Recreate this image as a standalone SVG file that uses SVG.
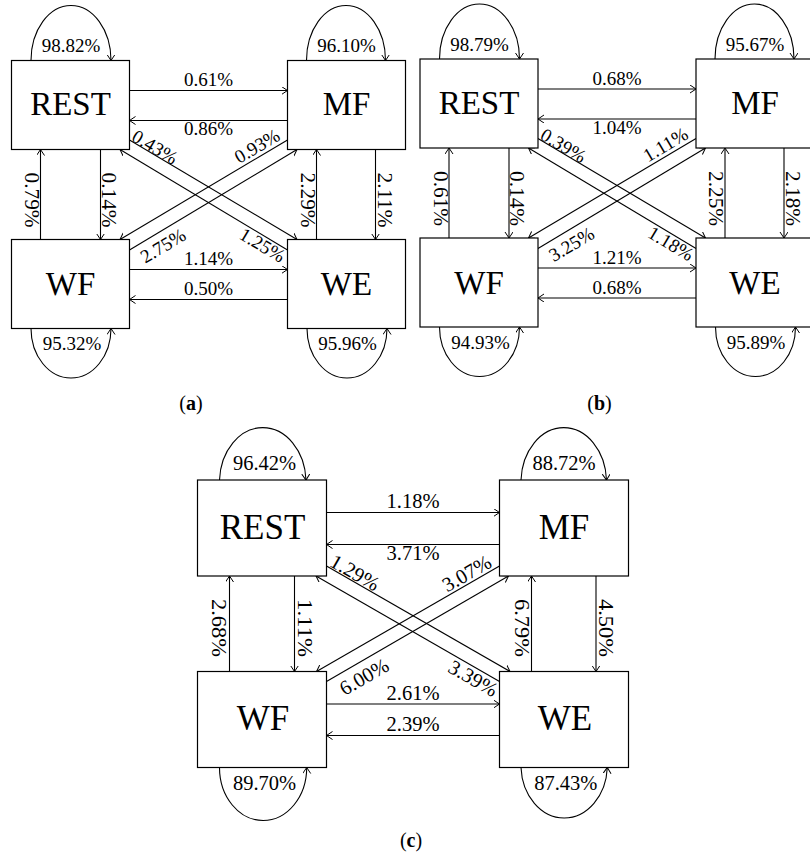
<svg xmlns="http://www.w3.org/2000/svg" width="810" height="862" viewBox="0 0 810 862">
<style>
  .node rect { fill: #fff; stroke: #000; stroke-width: 1.2; }
  .nt { font-family: "Liberation Serif", "Times New Roman", serif; font-size: 33px; text-anchor: middle; fill: #000; }
  .ntc { font-family: "Liberation Serif", "Times New Roman", serif; font-size: 35px; text-anchor: middle; fill: #000; }
  .conn line, .conn path { fill: none; stroke: #000; stroke-width: 1.1; marker-end: url(#ah); }
  .lb { font-family: "Liberation Serif", "Times New Roman", serif; font-size: 19px; text-anchor: middle; fill: #000; }
  .lbc { font-family: "Liberation Serif", "Times New Roman", serif; font-size: 20.5px; text-anchor: middle; fill: #000; }
  .vl { font-family: "Liberation Serif", "Times New Roman", serif; font-size: 20px; text-anchor: middle; fill: #000; }
  .vlc { font-family: "Liberation Serif", "Times New Roman", serif; font-size: 21px; text-anchor: middle; fill: #000; }
  .cap { font-family: "Liberation Serif", "Times New Roman", serif; font-size: 20px; text-anchor: middle; fill: #000; }
</style>
<defs>
  <marker id="ah" markerWidth="9" markerHeight="9" refX="6" refY="4" orient="auto" markerUnits="userSpaceOnUse">
    <path d="M0,0 L6,4 L0,8" fill="none" stroke="#000" stroke-width="1"/>
  </marker>
</defs>
<rect width="810" height="862" fill="#fff"/>

<!-- Panel (a) -->
<g id="panel-a">
  <g id="a-connectors" class="conn">
    <line x1="129.5" y1="90.5" x2="287.5" y2="90.5"/>
    <line x1="287.5" y1="120.5" x2="129.5" y2="120.5"/>
    <line x1="129.5" y1="269.5" x2="287.5" y2="269.5"/>
    <line x1="287.5" y1="299.5" x2="129.5" y2="299.5"/>
    <line x1="40.5" y1="239.5" x2="40.5" y2="149.5"/>
    <line x1="100.5" y1="149.5" x2="100.5" y2="239.5"/>
    <line x1="316.5" y1="239.5" x2="316.5" y2="149.5"/>
    <line x1="375.5" y1="149.5" x2="375.5" y2="239.5"/>
    <line x1="129.5" y1="140" x2="297" y2="239.5"/>
    <line x1="287.5" y1="250" x2="120" y2="149.5"/>
    <line x1="287.5" y1="140" x2="120" y2="239.5"/>
    <line x1="129.5" y1="250" x2="297" y2="149.5"/>
    <path d="M31,60.5 A40,55 0 0 1 111,60.5"/>
    <path d="M306.5,60.5 A39.5,55 0 0 1 385.5,60.5"/>
    <path d="M31,328.5 A40,49.5 0 0 0 111,328.5"/>
    <path d="M307,328.5 A40,49.5 0 0 0 387,328.5"/>
    <text class="lb" x="208.5" y="86">0.61%</text>
    <text class="lb" x="208.5" y="135">0.86%</text>
    <text class="lb" x="208.5" y="265">1.14%</text>
    <text class="lb" x="208.5" y="295">0.50%</text>
    <text class="vl" transform="translate(25,200) rotate(90)" textLength="55" lengthAdjust="spacingAndGlyphs">0.79%</text>
    <text class="vl" transform="translate(101.5,200) rotate(90)" textLength="55" lengthAdjust="spacingAndGlyphs">0.14%</text>
    <text class="vl" transform="translate(300.5,200) rotate(90)" textLength="55" lengthAdjust="spacingAndGlyphs">2.29%</text>
    <text class="vl" transform="translate(377.5,200) rotate(90)" textLength="55" lengthAdjust="spacingAndGlyphs">2.11%</text>
    <text class="lb" transform="translate(151.7,152.6) rotate(30.7)">0.43%</text>
    <text class="lb" transform="translate(260.3,151.6) rotate(-30.7)">0.93%</text>
    <text class="lb" transform="translate(166.3,251.3) rotate(-30.7)">2.75%</text>
    <text class="lb" transform="translate(259.2,250.6) rotate(30.7)">1.25%</text>
    <text class="lb" x="71" y="52">98.82%</text>
    <text class="lb" x="346.5" y="52">96.10%</text>
    <text class="lb" x="72" y="350">95.32%</text>
    <text class="lb" x="347.5" y="350">95.96%</text>
  </g>
  <g id="a-rest" class="node"><rect x="11.5" y="60.5" width="118" height="89"/><text class="nt" x="70.5" y="115">REST</text></g>
  <g id="a-mf" class="node"><rect x="287.5" y="60.5" width="118" height="89"/><text class="nt" x="346.5" y="115">MF</text></g>
  <g id="a-wf" class="node"><rect x="11.5" y="239.5" width="118" height="89"/><text class="nt" x="70.5" y="295">WF</text></g>
  <g id="a-we" class="node"><rect x="287.5" y="239.5" width="118" height="89"/><text class="nt" x="346.5" y="295">WE</text></g>
  <text class="cap" x="191" y="410">(<tspan font-weight="bold">a</tspan>)</text>
</g>

<!-- Panel (b) -->
<g id="panel-b" transform="translate(408.5,-1.5)">
  <g id="b-connectors" class="conn">
    <line x1="129.5" y1="90.5" x2="287.5" y2="90.5"/>
    <line x1="287.5" y1="120.5" x2="129.5" y2="120.5"/>
    <line x1="129.5" y1="269.5" x2="287.5" y2="269.5"/>
    <line x1="287.5" y1="299.5" x2="129.5" y2="299.5"/>
    <line x1="40.5" y1="239.5" x2="40.5" y2="149.5"/>
    <line x1="100.5" y1="149.5" x2="100.5" y2="239.5"/>
    <line x1="316.5" y1="239.5" x2="316.5" y2="149.5"/>
    <line x1="375.5" y1="149.5" x2="375.5" y2="239.5"/>
    <line x1="129.5" y1="140" x2="297" y2="239.5"/>
    <line x1="287.5" y1="250" x2="120" y2="149.5"/>
    <line x1="287.5" y1="140" x2="120" y2="239.5"/>
    <line x1="129.5" y1="250" x2="297" y2="149.5"/>
    <path d="M31,60.5 A40,55 0 0 1 111,60.5"/>
    <path d="M306.5,60.5 A39.5,55 0 0 1 385.5,60.5"/>
    <path d="M31,328.5 A40,49.5 0 0 0 111,328.5"/>
    <path d="M307,328.5 A40,49.5 0 0 0 387,328.5"/>
    <text class="lb" x="208.5" y="86">0.68%</text>
    <text class="lb" x="208.5" y="135">1.04%</text>
    <text class="lb" x="208.5" y="265">1.21%</text>
    <text class="lb" x="208.5" y="295">0.68%</text>
    <text class="vl" transform="translate(25,200) rotate(90)" textLength="55" lengthAdjust="spacingAndGlyphs">0.61%</text>
    <text class="vl" transform="translate(101.5,200) rotate(90)" textLength="55" lengthAdjust="spacingAndGlyphs">0.14%</text>
    <text class="vl" transform="translate(300.5,200) rotate(90)" textLength="55" lengthAdjust="spacingAndGlyphs">2.25%</text>
    <text class="vl" transform="translate(377.5,200) rotate(90)" textLength="55" lengthAdjust="spacingAndGlyphs">2.18%</text>
    <text class="lb" transform="translate(151.7,152.6) rotate(30.7)">0.39%</text>
    <text class="lb" transform="translate(260.3,151.6) rotate(-30.7)">1.11%</text>
    <text class="lb" transform="translate(166.3,251.3) rotate(-30.7)">3.25%</text>
    <text class="lb" transform="translate(259.2,250.6) rotate(30.7)">1.18%</text>
    <text class="lb" x="71" y="52">98.79%</text>
    <text class="lb" x="346.5" y="52">95.67%</text>
    <text class="lb" x="72" y="350">94.93%</text>
    <text class="lb" x="347.5" y="350">95.89%</text>
  </g>
  <g id="b-rest" class="node"><rect x="11.5" y="60.5" width="118" height="89"/><text class="nt" x="70.5" y="115">REST</text></g>
  <g id="b-mf" class="node"><rect x="287.5" y="60.5" width="118" height="89"/><text class="nt" x="346.5" y="115">MF</text></g>
  <g id="b-wf" class="node"><rect x="11.5" y="239.5" width="118" height="89"/><text class="nt" x="70.5" y="295">WF</text></g>
  <g id="b-we" class="node"><rect x="287.5" y="239.5" width="118" height="89"/><text class="nt" x="346.5" y="295">WE</text></g>
  <text class="cap" x="191" y="411.5">(<tspan font-weight="bold">b</tspan>)</text>
</g>

<!-- Panel (c) -->
<g id="panel-c">
  <g id="c-connectors" class="conn">
    <line x1="326.5" y1="512.5" x2="499.5" y2="512.5"/>
    <line x1="499.5" y1="544.5" x2="326.5" y2="544.5"/>
    <line x1="326.5" y1="704" x2="499.5" y2="704"/>
    <line x1="499.5" y1="735.5" x2="326.5" y2="735.5"/>
    <line x1="229.5" y1="671.5" x2="229.5" y2="576"/>
    <line x1="294.5" y1="576" x2="294.5" y2="671.5"/>
    <line x1="531.5" y1="671.5" x2="531.5" y2="576"/>
    <line x1="596" y1="576" x2="596" y2="671.5"/>
    <line x1="326.5" y1="566" x2="510" y2="671.5"/>
    <line x1="499.5" y1="681.5" x2="316" y2="576"/>
    <line x1="499.5" y1="566" x2="316.5" y2="671.5"/>
    <line x1="326.5" y1="681.5" x2="508.5" y2="576"/>
    <path d="M219.5,480 A43.3,55 0 0 1 306,480"/>
    <path d="M521,480 A42.8,55 0 0 1 606.5,480"/>
    <path d="M219.5,767.5 A43.6,53 0 0 0 306.7,767.5"/>
    <path d="M521,767.5 A43.2,53 0 0 0 607.3,767.5"/>
    <text class="lbc" x="413" y="507.5">1.18%</text>
    <text class="lbc" x="413" y="560">3.71%</text>
    <text class="lbc" x="413" y="699.5">2.61%</text>
    <text class="lbc" x="413" y="730.5">2.39%</text>
    <text class="vlc" transform="translate(212,628) rotate(90)" textLength="58" lengthAdjust="spacingAndGlyphs">2.68%</text>
    <text class="vlc" transform="translate(297.5,628) rotate(90)" textLength="58" lengthAdjust="spacingAndGlyphs">1.11%</text>
    <text class="vlc" transform="translate(515,628) rotate(90)" textLength="58" lengthAdjust="spacingAndGlyphs">6.79%</text>
    <text class="vlc" transform="translate(598.5,628) rotate(90)" textLength="58" lengthAdjust="spacingAndGlyphs">4.50%</text>
    <text class="lbc" transform="translate(351.5,578.6) rotate(29.9)">1.29%</text>
    <text class="lbc" transform="translate(470.2,579.4) rotate(-29.9)">3.07%</text>
    <text class="lbc" transform="translate(367.5,682.8) rotate(-29.9)">6.00%</text>
    <text class="lbc" transform="translate(469.8,684.4) rotate(29.9)">3.39%</text>
    <text class="lbc" x="264.5" y="470">96.42%</text>
    <text class="lbc" x="564" y="470">88.72%</text>
    <text class="lbc" x="264.5" y="790">89.70%</text>
    <text class="lbc" x="565.8" y="790">87.43%</text>
  </g>
  <g id="c-rest" class="node"><rect x="197.5" y="480" width="129" height="96"/><text class="ntc" x="262.5" y="538.5">REST</text></g>
  <g id="c-mf" class="node"><rect x="499.5" y="480" width="129" height="96"/><text class="ntc" x="564" y="538.5">MF</text></g>
  <g id="c-wf" class="node"><rect x="197.5" y="671.5" width="129" height="96"/><text class="ntc" x="263" y="730">WF</text></g>
  <g id="c-we" class="node"><rect x="499.5" y="671.5" width="129" height="96"/><text class="ntc" x="565" y="730">WE</text></g>
  <text class="cap" x="411" y="847">(<tspan font-weight="bold">c</tspan>)</text>
</g>
</svg>
